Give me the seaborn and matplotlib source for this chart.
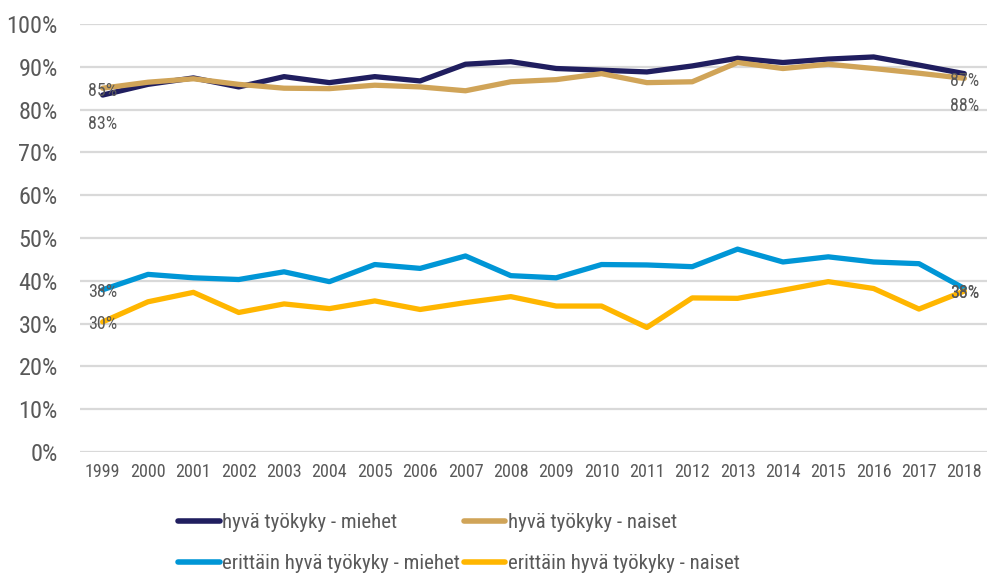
import matplotlib
matplotlib.use("Agg")
import matplotlib.pyplot as plt
from matplotlib import font_manager
import seaborn as sns
import pandas as pd

years = list(range(1999, 2019))
hyva_miehet = [83.4, 85.9, 87.4, 85.3, 87.7, 86.3, 87.7, 86.7, 90.6, 91.2,
               89.6, 89.2, 88.8, 90.2, 92.0, 91.0, 91.8, 92.3, 90.4, 88.4]
hyva_naiset = [85.0, 86.4, 87.2, 85.9, 85.0, 84.9, 85.7, 85.3, 84.4, 86.5,
               87.0, 88.4, 86.3, 86.5, 91.0, 89.6, 90.6, 89.6, 88.5, 87.3]
erittain_miehet = [37.9, 41.5, 40.7, 40.3, 42.1, 39.8, 43.8, 42.9, 45.8, 41.2,
                   40.7, 43.8, 43.7, 43.3, 47.4, 44.4, 45.6, 44.4, 44.0, 38.2]
erittain_naiset = [30.4, 35.1, 37.3, 32.6, 34.6, 33.5, 35.3, 33.3, 34.9, 36.3,
                   34.1, 34.1, 29.1, 36.0, 35.9, 37.8, 39.8, 38.2, 33.4, 37.6]

series_names = ["hyvä työkyky - miehet", "hyvä työkyky - naiset",
                "erittäin hyvä työkyky - miehet", "erittäin hyvä työkyky - naiset"]
series_values = [hyva_miehet, hyva_naiset, erittain_miehet, erittain_naiset]
colors = ["#201E5F", "#D0A458", "#0096D6", "#FFB600"]

sns.set_theme(style="white")
installed = {f.name for f in font_manager.fontManager.ttflist}
narrow = next((n for n in ["Liberation Sans Narrow", "Arial Narrow", "Roboto Condensed",
                           "Archivo Narrow", "PT Sans Narrow", "Liberation Sans"]
               if n in installed), "DejaVu Sans")
plt.rcParams["font.family"] = [narrow, "DejaVu Sans"]
text_color = "#595959"

df = pd.DataFrame({"vuosi": years})
for name, vals in zip(series_names, series_values):
    df[name] = vals
long = df.melt(id_vars="vuosi", var_name="sarja", value_name="osuus")

fig = plt.figure(figsize=(9.89, 5.77), dpi=100)
W, H = 989, 577
ax = fig.add_axes([80 / W, 1 - 452 / H, (987 - 80) / W, (452 - 24) / H])

sns.lineplot(data=long, x="vuosi", y="osuus", hue="sarja", hue_order=series_names,
             palette=colors, linewidth=3.8, ax=ax, legend=True)
for ln in ax.get_lines():
    ln.set_solid_joinstyle("round")
    ln.set_solid_capstyle("round")

ax.set_xlim(years[0] - 0.5, years[-1] + 0.5)
ax.set_ylim(0, 100)
ax.set_yticks(range(0, 101, 10))
ax.set_yticklabels([f"{v}%" for v in range(0, 101, 10)])
ax.set_xticks(years)
ax.set_xticklabels([str(y) for y in years])
ax.tick_params(axis="y", labelsize=17.5, colors=text_color, length=0, pad=16)
ax.tick_params(axis="x", labelsize=13, colors=text_color, length=0, pad=8)
ax.yaxis.grid(True, color="#D9D9D9", linewidth=1.6)
ax.set_axisbelow(True)
for s in ax.spines.values():
    s.set_visible(False)
ax.set_xlabel("")
ax.set_ylabel("")

# end-point value labels (offsets in pixels below the point)
def label(x, v, dy):
    ax.annotate(f"{v:.0f}%", (x, v), xytext=(0, -dy), textcoords="offset pixels",
                ha="center", va="center", fontsize=13, color=text_color)

label(years[0], hyva_naiset[0], 3)
label(years[0], hyva_miehet[0], 29)
label(years[-1], hyva_naiset[-1], 3)
label(years[-1], hyva_miehet[-1], 32)
label(years[0], erittain_miehet[0], 2.5)
label(years[0], erittain_naiset[0], 2.5)
label(years[-1], erittain_naiset[-1], 1.9)
label(years[-1], erittain_miehet[-1], 4.5)

handles, labels = ax.get_legend_handles_labels()
ax.get_legend().remove()
order = [0, 2, 1, 3]
leg = fig.legend([handles[i] for i in order], [labels[i] for i in order],
                 loc="upper left", bbox_to_anchor=(178 / W, 1 - 513 / H),
                 ncol=2, frameon=False, fontsize=15, handlelength=2.0,
                 handletextpad=0.1, columnspacing=0.2, labelspacing=1.05,
                 borderaxespad=0, borderpad=0)
for t in leg.get_texts():
    t.set_color(text_color)
for h in leg.get_lines():
    h.set_linewidth(4)
    h.set_solid_capstyle("round")

fig.savefig("out.png", dpi=100)
